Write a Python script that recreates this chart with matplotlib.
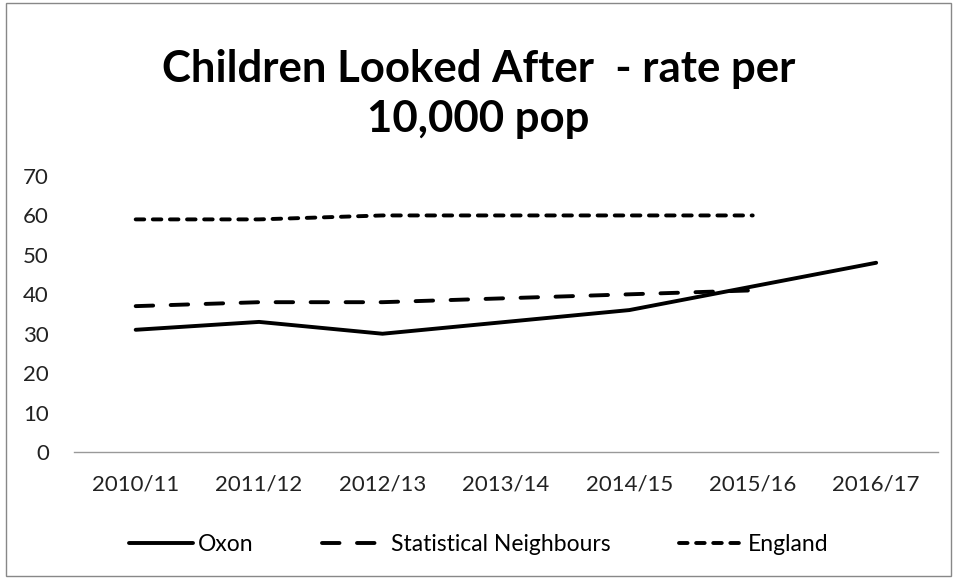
import matplotlib
matplotlib.use("Agg")
import matplotlib.pyplot as plt
from matplotlib.patches import Rectangle

categories = ["2010/11", "2011/12", "2012/13", "2013/14", "2014/15", "2015/16", "2016/17"]
oxon = [31, 33, 30, 33, 36, 42, 48]
stat_neighbours = [37, 38, 38, 39, 40, 41]
england = [59, 59, 60, 60, 60, 60]

plt.rcParams['font.family'] = ['Lato', 'DejaVu Sans']

fig = plt.figure(figsize=(9.57, 5.79), dpi=100)
ax = fig.add_axes([0.0773, 0.2193, 0.9027, 0.4767])

x = list(range(len(categories)))
lw = 2.8
l1, = ax.plot(x, oxon, color='black', lw=lw, solid_capstyle='round', label='Oxon')
l2, = ax.plot(x[:len(stat_neighbours)], stat_neighbours, color='black', lw=lw,
              linestyle=(0, (4.5, 4.5)), dash_capstyle='round', label='Statistical Neighbours')
l3, = ax.plot(x[:len(england)], england, color='black', lw=lw,
              linestyle=(0, (2.2, 2.2)), dash_capstyle='round', label='England')

ax.set_xlim(-0.5, len(categories) - 0.5)
ax.set_ylim(0, 70)
ax.set_yticks(range(0, 71, 10))
ax.set_xticks(x)
ax.set_xticklabels(categories)
for s in ['top', 'right', 'left']:
    ax.spines[s].set_visible(False)
ax.spines['bottom'].set_color('#999999')
ax.spines['bottom'].set_linewidth(1)
ax.tick_params(axis='both', length=0, labelsize=16, colors='#222222')
ax.tick_params(axis='x', pad=16)
ax.tick_params(axis='y', pad=18)

fig.text(0.5, 0.838, "Children Looked After  - rate per\n10,000 pop", ha='center', va='center',
         fontsize=31.5, fontweight='bold', linespacing=1.3)

fig.legend(handles=[l1, l2, l3], loc='center', bbox_to_anchor=(0.5, 0.06), ncol=3,
           frameon=False, fontsize=16.5, handlelength=2.8, columnspacing=3.0, handletextpad=0.2)

fig.patches.append(Rectangle((0.006, 0.006), 0.988, 0.988, transform=fig.transFigure,
                             fill=False, edgecolor='#888888', lw=1))

fig.savefig("out.png", dpi=100)
